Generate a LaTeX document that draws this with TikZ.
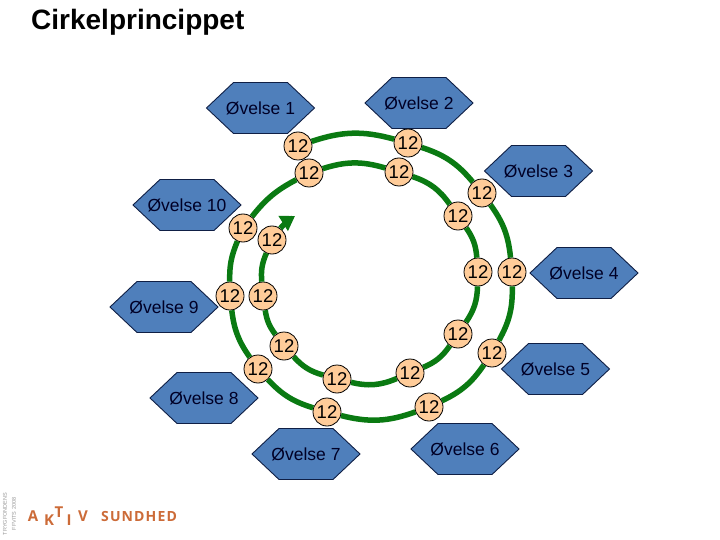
\documentclass[tikz,border=0pt]{standalone}
\usepackage{fontspec}
\setmainfont{Liberation Sans}
\newfontfamily\logofont[LetterSpace=8]{Open Sans}
\usetikzlibrary{arrows.meta}
\definecolor{ringgreen}{HTML}{0A7A12}
\definecolor{hexblue}{HTML}{4F7FBB}
\definecolor{hexline}{HTML}{0F1F45}
\definecolor{discfill}{HTML}{FFCC99}
\definecolor{logoorange}{HTML}{CC6B38}
\tikzset{
  x=1pt,y=-1pt,
  hexa/.style={inner sep=0pt,font=\fontsize{17.5pt}{20pt}\selectfont,text=black!85!blue},
  hexshape/.style={draw=hexline,fill=hexblue,line width=0.9pt,line join=miter},
  disc/.style={circle,draw=black,fill=discfill,line width=0.8pt,minimum size=28pt,inner sep=0pt,
    font=\fontsize{18.5pt}{20pt}\selectfont},
  ring/.style={draw=ringgreen,line width=5.5pt},
  logo/.style={text=logoorange,inner sep=0pt,font=\logofont\bfseries\fontsize{14pt}{16pt}\selectfont},
  logobig/.style={logo,font=\logofont\bfseries\fontsize{15pt}{17pt}\selectfont},
  side/.style={text=black!40,inner sep=0pt,rotate=90,font=\fontsize{5.5pt}{6pt}\selectfont}
}
\newcommand{\hexnode}[3]{%
  \draw[hexshape] (#1-54,#2) -- (#1-27,#2-25.5) -- (#1+27,#2-25.5) -- (#1+54,#2) -- (#1+27,#2+25.5) -- (#1-27,#2+25.5) -- cycle;
  \node[hexa] at (#1,#2) {#3};
}
\begin{document}
\begin{tikzpicture}
\useasboundingbox (0,0) rectangle (720,540);
\fill[white] (0,0) rectangle (720,540);
\node[inner sep=0pt,anchor=west,font=\bfseries\fontsize{28pt}{30pt}\selectfont] (title) at (31,22) {Cirkelprincippet};
% hexagons
\hexnode{260.5}{108}{Øvelse 1}
\hexnode{419}{103}{Øvelse 2}
\hexnode{538.5}{171}{Øvelse 3}
\hexnode{584}{273}{Øvelse 4}
\hexnode{555.5}{369}{Øvelse 5}
\hexnode{465}{449}{Øvelse 6}
\hexnode{306}{454}{Øvelse 7}
\hexnode{204}{398}{Øvelse 8}
\hexnode{164}{307}{Øvelse 9}
\hexnode{187}{205}{Øvelse 10}
% discs
\node[disc] (oa) at (298,146) {12};
\node[disc] (ob) at (408,143) {12};
\node[disc] (oc) at (482,193) {12};
\node[disc] (od) at (512,272) {12};
\node[disc] (oe) at (492,353) {12};
\node[disc] (of) at (429,407) {12};
\node[disc] (og) at (327,412) {12};
\node[disc] (oh) at (258,369) {12};
\node[disc] (oi) at (230,296) {12};
\node[disc] (oj) at (243,228) {12};
\node[disc] (ia) at (309,173) {12};
\node[disc] (ib) at (399,172) {12};
\node[disc] (ic) at (458,216) {12};
\node[disc] (id) at (478,272) {12};
\node[disc] (ie) at (458,334) {12};
\node[disc] (if) at (410,373) {12};
\node[disc] (ig) at (337,379) {12};
\node[disc] (ih) at (284,346) {12};
\node[disc] (ii) at (263,296) {12};
\node[disc] (ij) at (272,240) {12};
\coordinate (tip) at (295,216);
% ring connectors
\draw[ring] (oa) to[bend left=17] (ob);
\draw[ring] (ob) to[bend left=16] (oc);
\draw[ring] (oc) to[bend left=15] (od);
\draw[ring] (od) to[bend left=15] (oe);
\draw[ring] (oe) to[bend left=15] (of);
\draw[ring] (of) to[bend left=17] (og);
\draw[ring] (og) to[bend left=15] (oh);
\draw[ring] (oh) to[bend left=14] (oi);
\draw[ring] (oi) to[bend left=12] (oj);
\draw[ring] (oj) to[bend left=12] (ia);
\draw[ring] (ia) to[bend left=17] (ib);
\draw[ring] (ib) to[bend left=18] (ic);
\draw[ring] (ic) to[bend left=15] (id);
\draw[ring] (id) to[bend left=16] (ie);
\draw[ring] (ie) to[bend left=16] (if);
\draw[ring] (if) to[bend left=18] (ig);
\draw[ring] (ig) to[bend left=16] (ih);
\draw[ring] (ih) to[bend left=14] (ii);
\draw[ring] (ii) to[bend left=14] (ij);
\draw[ring,-{Triangle[length=14pt,width=17pt]}] (ij) to[bend left=8] (tip);
% logo
\node[logobig] (l1) at (33,516) {A};
\node[logobig] (l2) at (49,520) {K};
\node[logobig] (l3) at (59,512) {T};
\node[logobig] (l4) at (69,520) {I};
\node[logobig] (l5) at (83,516) {V};
\node[logo,anchor=west] (l6) at (101,516) {SUNDHED};
\node[side] (s1) at (5,514) {TRYGFONDENS};
\node[side] (s2) at (14,514) {FFVITS 2008};
\end{tikzpicture}
\end{document}
